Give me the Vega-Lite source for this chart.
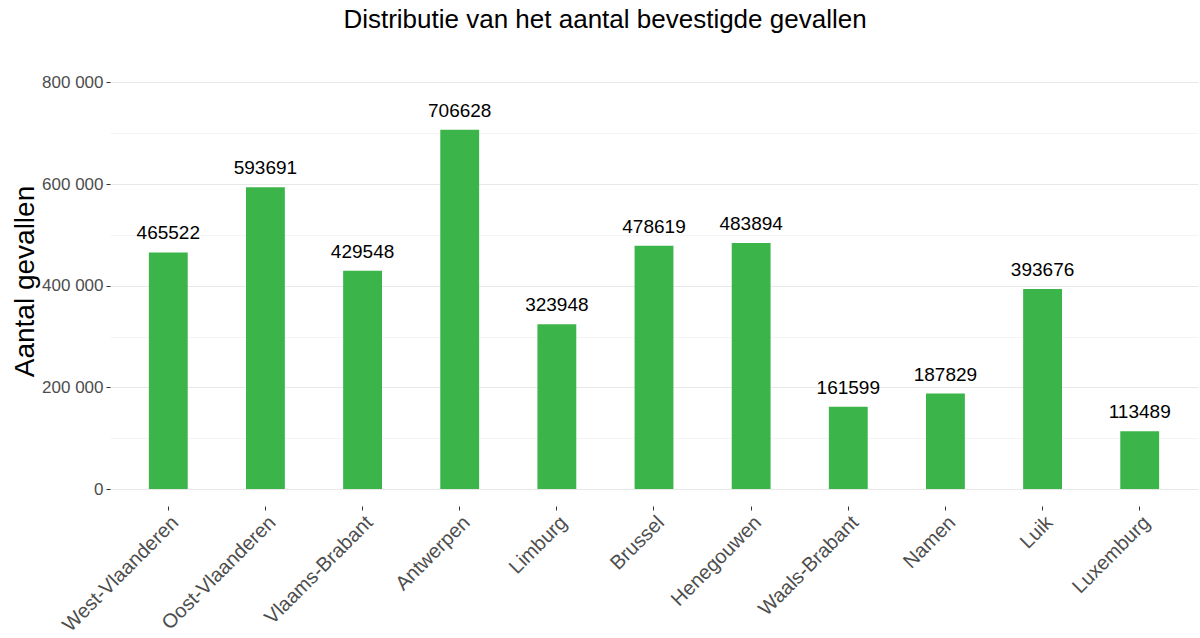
{
  "$schema": "https://vega.github.io/schema/vega-lite/v6.json",
  "width": 1088,
  "height": 432,
  "autosize": {"type": "none"},
  "padding": {"left": 110, "top": 57, "right": 2, "bottom": 149},
  "config": {
    "font": "Liberation Sans",
    "view": {"stroke": null},
    "locale": {"number": {"decimal": ",", "thousands": " ", "grouping": [3], "currency": ["€", ""]}}
  },
  "title": {
    "text": "Distributie van het aantal bevestigde gevallen",
    "fontSize": 26,
    "fontWeight": "normal",
    "color": "#000000",
    "anchor": "middle",
    "frame": "group",
    "dx": -49,
    "offset": 24
  },
  "data": {
    "values": [
      {"provincie": "West-Vlaanderen", "gevallen": 465522},
      {"provincie": "Oost-Vlaanderen", "gevallen": 593691},
      {"provincie": "Vlaams-Brabant", "gevallen": 429548},
      {"provincie": "Antwerpen", "gevallen": 706628},
      {"provincie": "Limburg", "gevallen": 323948},
      {"provincie": "Brussel", "gevallen": 478619},
      {"provincie": "Henegouwen", "gevallen": 483894},
      {"provincie": "Waals-Brabant", "gevallen": 161599},
      {"provincie": "Namen", "gevallen": 187829},
      {"provincie": "Luik", "gevallen": 393676},
      {"provincie": "Luxemburg", "gevallen": 113489}
    ]
  },
  "encoding": {
    "x": {
      "field": "provincie",
      "type": "nominal",
      "sort": null,
      "scale": {"paddingInner": 0.6, "paddingOuter": 0.4},
      "axis": {
        "title": null,
        "domain": false,
        "grid": false,
        "offset": 17,
        "tickSize": 4,
        "tickColor": "#333333",
        "labelAngle": -45,
        "labelAlign": "right",
        "labelBaseline": "top",
        "labelFontSize": 20,
        "labelColor": "#4d4d4d",
        "labelPadding": 2
      }
    },
    "y": {
      "field": "gevallen",
      "type": "quantitative",
      "scale": {"domain": [0, 850000], "nice": false, "zero": true},
      "axis": {
        "title": "Aantal gevallen",
        "titleFontSize": 28,
        "titleFontWeight": "normal",
        "titleColor": "#000000",
        "titleX": -85,
        "titleY": 224,
        "titleAngle": -90,
        "titleBaseline": "middle",
        "titleAlign": "center",
        "values": [0, 100000, 200000, 300000, 400000, 500000, 600000, 700000, 800000],
        "format": ",d",
        "labelExpr": "datum.value % 200000 === 0 ? datum.label : ''",
        "labelFontSize": 17,
        "labelColor": "#4d4d4d",
        "labelPadding": 3,
        "domain": false,
        "tickSize": 4,
        "tickColor": "#333333",
        "tickOpacity": {"condition": {"test": "datum.value % 200000 !== 0", "value": 0}, "value": 1},
        "grid": true,
        "gridColor": {"condition": {"test": "datum.value % 200000 !== 0", "value": "#f4f4f4"}, "value": "#e8e8e8"},
        "gridWidth": 1
      }
    }
  },
  "layer": [
    {"mark": {"type": "bar", "color": "#3BB54A"}},
    {
      "mark": {"type": "text", "baseline": "alphabetic", "dy": -13, "fontSize": 19, "color": "#000000"},
      "encoding": {"text": {"field": "gevallen", "type": "quantitative", "format": "d"}}
    }
  ]
}
